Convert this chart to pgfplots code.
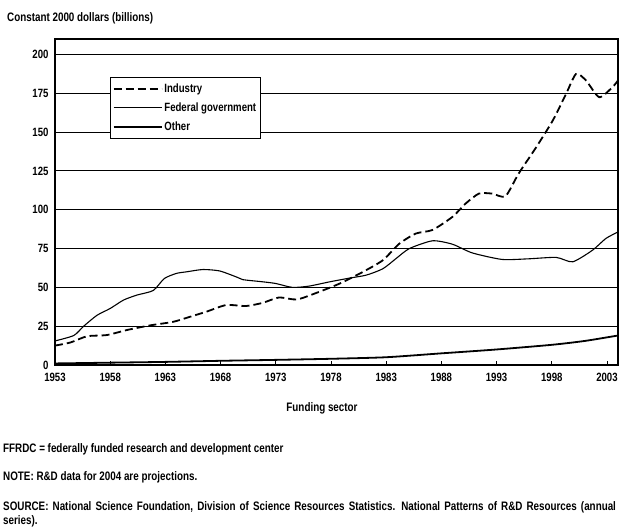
\documentclass[border=0pt]{standalone}
\usepackage{fontspec}
\setmainfont{Liberation Sans}[FakeStretch=0.8]
\usepackage{pgfplots}
\pgfplotsset{compat=1.18}
\usepackage{pgfplotstable}

\pgfplotstableread{
year val
1953 12.5
1954.4 14.5
1955.9 18.5
1957.7 19.3
1959.5 22.5
1961.6 25.5
1963.7 27.8
1965.2 31
1966.7 34.3
1968.5 38.6
1970.3 38
1971.8 40
1973.3 43.5
1974.9 42.2
1976.7 46.5
1978.8 52.5
1980.9 60
1982.7 67.5
1984.2 78.2
1985.7 84.7
1987.2 87
1989 95.4
1990.2 104
1991.4 110.4
1992.6 110.4
1993.8 108.7
1995 123.3
1996.6 140.4
1998.1 157.6
1999.3 174.7
2000.2 187.5
2001.1 183.3
2002.3 172.5
2003.5 179
2004 183.3
}\industry

\pgfplotstableread{
year val
1953 15.5
1954.7 19
1955.6 25
1956.8 32
1958 36.4
1959.2 41.8
1960.4 45
1961.9 48
1962.9 55.7
1964 59
1964.9 60
1966.4 61.5
1967.9 60.6
1969.4 56.8
1970 55
1971.8 53.6
1973 52.5
1974.5 50
1976 50.8
1977.9 53.6
1979.7 56
1981.2 57.9
1982.7 62
1983.9 68.6
1985.1 75
1987.2 80
1989 77.8
1990.8 72.2
1993.5 68
1995.9 68.4
1998.4 69.3
1999.9 66.5
2001.7 74
2002.9 81.5
2004 85.7
}\federal

\pgfplotstableread{
year val
1953 1
1958 1.5
1963 2
1968 2.7
1973 3.3
1978 4
1983 5
1988 7.5
1993 10
1998 13
2001 15.5
2004 19
}\other

\begin{document}
\begin{tikzpicture}
\useasboundingbox (0pt,0pt) rectangle (620pt,529pt);
\begin{axis}[
  at={(55pt,164pt)}, anchor=south west,
  scale only axis, width=563pt, height=326pt,
  xmin=1953, xmax=2004, ymin=0, ymax=210,
  xtick={1953,1958,...,2003},
  ytick={0,25,...,200},
  x tick label style={/pgf/number format/1000 sep={}},
  /pgf/number format/assume math mode=true,
  ticklabel style={font=\bfseries\fontsize{12}{14}\selectfont},
  xtick pos=bottom, ytick pos=left,
  tick align=inside,
  major tick length=4pt,
  ytick style={draw=none},
  xtick style={black, line width=0.8pt},
  ymajorgrids,
  grid style={black, line width=1.1pt},
  axis line style={black, line width=1.3pt},
  yticklabel style={xshift=-3pt},
  xticklabel style={yshift=-5pt},
  legend style={at={(0.098,0.883)}, anchor=north west, draw=black, line width=0.9pt,
    fill=white, font=\bfseries\fontsize{12}{14}\selectfont, row sep=5pt,
    inner xsep=2pt, inner ysep=4pt},
  legend cell align=left,
  legend image code/.code={\draw[#1] (0pt,0pt) -- (48pt,0pt);},
]
\addplot[black, line width=1.8pt, dash pattern=on 8pt off 4pt, smooth, tension=0.4] table[x=year,y=val] {\industry};
\addlegendentry{Industry}
\addplot[black, line width=1.1pt, smooth, tension=0.4] table[x=year,y=val] {\federal};
\addlegendentry{Federal government}
\addplot[black, line width=1.8pt, smooth, tension=0.4] table[x=year,y=val] {\other};
\addlegendentry{Other}
\end{axis}
\node[anchor=west, font=\bfseries\fontsize{12.3}{14}\selectfont, inner sep=0pt] at (7pt,511pt) {Constant 2000 dollars (billions)};
\node[font=\bfseries\fontsize{12.3}{14}\selectfont] at (322pt,121pt) {Funding sector};
\node[anchor=west, font=\bfseries\fontsize{12.3}{14}\selectfont, inner sep=0pt] at (3pt,80pt) {FFRDC = federally funded research and development center};
\node[anchor=west, font=\bfseries\fontsize{12.3}{14}\selectfont, inner sep=0pt] at (3pt,52pt) {NOTE: R\&D data for 2004 are projections.};
\node[anchor=north west, font=\bfseries\fontsize{12.3}{14}\selectfont, text width=616pt, inner sep=0pt, align=left] at (3pt,28pt) {SOURCE: National Science Foundation, Division of Science Resources Statistics. National Patterns of R\&D Resources (annual series).};
\end{tikzpicture}
\end{document}
